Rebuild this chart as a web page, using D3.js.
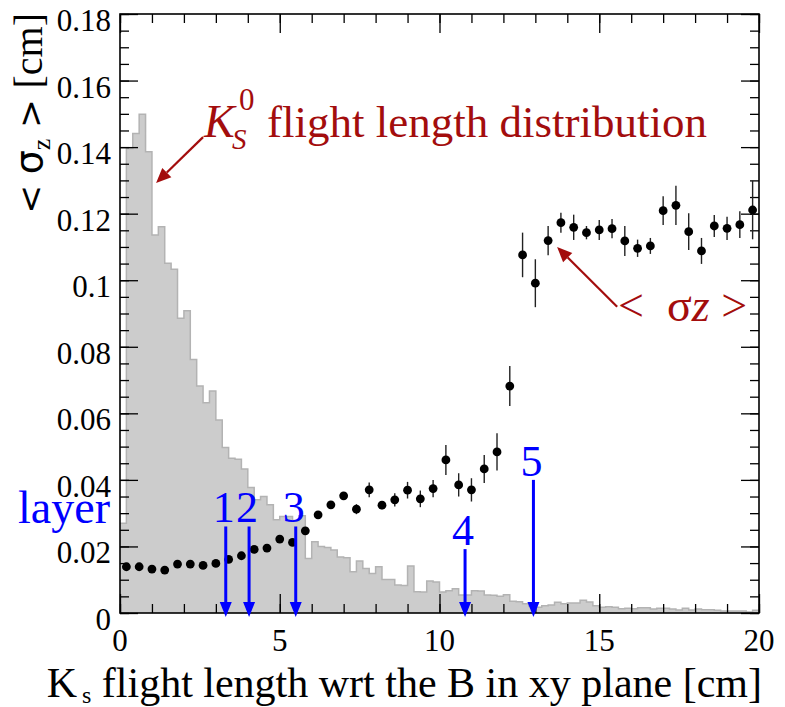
<!DOCTYPE html>
<html><head><meta charset="utf-8">
<script src="https://cdn.jsdelivr.net/npm/d3@7"></script>
<style>
body{margin:0;background:#fff;}
text{font-family:"Liberation Serif","Times New Roman",serif;}
</style></head><body>
<svg id="c" width="785" height="707"></svg>
<script>
// ---- data ----
const histBinWidth = 0.2;
const histValues = [
0.0270,0.1396,0.1441,0.1499,0.1386,0.1136,0.1161,0.1051,0.1033,0.0886,
0.0908,0.0762,0.0682,0.0632,0.0667,0.0580,0.0497,0.0465,0.0462,0.0433,
0.0377,0.0340,0.0350,0.0325,0.0280,0.0290,0.0290,0.0278,0.0292,0.0164,
0.0214,0.0200,0.0197,0.0189,0.0168,0.0166,0.0124,0.0156,0.0134,0.0119,
0.0139,0.0101,0.0101,0.0084,0.0083,0.0141,0.0064,0.0063,0.0096,0.0093,
0.0063,0.0067,0.0073,0.0054,0.0054,0.0067,0.0066,0.0054,0.0053,0.0050,
0.0055,0.0035,0.0034,0.0028,0.0020,0.0017,0.0022,0.0024,0.0032,0.0028,
0.0030,0.0030,0.0038,0.0033,0.0022,0.0017,0.0019,0.0017,0.0013,0.0014,
0.0013,0.0016,0.0016,0.0012,0.0014,0.0014,0.0012,0.0009,0.0014,0.0009,
0.0012,0.0010,0.0010,0.0008,0.0006,0.0006,0.0006,0.0006,0.0003,0.0008];

const dotBinWidth = 0.4;
const dotValues = [
0.0139,0.0139,0.0132,0.0129,0.0147,0.0147,0.0143,0.0149,0.0161,0.0172,
0.0191,0.0195,0.0222,0.0212,0.0247,0.0295,0.0325,0.0352,0.0312,0.0370,
0.0324,0.0340,0.0369,0.0343,0.0374,0.0460,0.0385,0.0370,0.0433,0.0484,
0.0682,0.1076,0.0991,0.1119,0.1173,0.1159,0.1143,0.1151,0.1155,0.1118,
0.1096,0.1103,0.1209,0.1225,0.1146,0.1088,0.1163,0.1156,0.1167,0.1211];
const dotErrors = [
0.0003,0.0003,0.0003,0.0003,0.0003,0.0003,0.0003,0.0003,0.0004,0.0004,
0.0005,0.0005,0.0008,0.0008,0.0008,0.0010,0.0010,0.0010,0.0015,0.0022,
0.0012,0.0020,0.0025,0.0025,0.0026,0.0045,0.0035,0.0035,0.0042,0.0056,
0.0060,0.0067,0.0072,0.0044,0.0030,0.0038,0.0020,0.0030,0.0029,0.0045,
0.0026,0.0024,0.0043,0.0059,0.0055,0.0039,0.0033,0.0035,0.0040,0.0088];

const xTickValues = [0,5,10,15,20];
const xTickLabels = ["0","5","10","15","20"];
const yTickValues = [0,0.02,0.04,0.06,0.08,0.1,0.12,0.14,0.16,0.18];
const yTickLabels = ["0","0.02","0.04","0.06","0.08","0.1","0.12","0.14","0.16","0.18"];

const layerPositions = [3.31,4.04,5.50,10.80,12.94];
const layerTops = [0.026,0.026,0.026,0.0192,0.040];
const layerLabels = ["1","2","3","4","5"];

// ---- scales ----
const svg = d3.select("#c");
const x = d3.scaleLinear().domain([0,20]).range([120,759]);
const y = d3.scaleLinear().domain([0,0.18]).range([613,14]);
const RED = "#a30d0d", BLUE = "#0000ff";
const SERIF = "Liberation Serif, Times New Roman, serif";

// ---- histogram ----
const histData = histValues.map((v,i)=>({x:i*histBinWidth, v}));
histData.push({x:histValues.length*histBinWidth, v:histValues[histValues.length-1]});
svg.append("path").datum(histData)
  .attr("d", d3.area().curve(d3.curveStepAfter).x(d=>x(d.x)).y0(y(0)).y1(d=>y(d.v)))
  .attr("fill","#cccccc");
svg.append("path").datum(histData)
  .attr("d", d3.line().curve(d3.curveStepAfter).x(d=>x(d.x)).y(d=>y(d.v)))
  .attr("fill","none").attr("stroke","#b3b3b3").attr("stroke-width",1.5);

// ---- axes ticks ----
const xMinor = d3.range(21);
const yMinor = d3.range(37).map(i=>i*0.005);
function addAxis(gen, tr){
  const g = svg.append("g").attr("transform",tr).call(gen);
  g.select(".domain").remove();
  g.selectAll(".tick line").attr("stroke","#000").attr("stroke-width",1.3);
  g.selectAll(".tick text").remove();
}
addAxis(d3.axisBottom(x).tickValues(xMinor).tickSize(-9), "translate(0,613)");
addAxis(d3.axisBottom(x).tickValues(xTickValues).tickSize(-19), "translate(0,613)");
addAxis(d3.axisTop(x).tickValues(xMinor).tickSize(-9), "translate(0,14)");
addAxis(d3.axisTop(x).tickValues(xTickValues).tickSize(-19), "translate(0,14)");
addAxis(d3.axisLeft(y).tickValues(yMinor).tickSize(-9), "translate(120,0)");
addAxis(d3.axisLeft(y).tickValues(yTickValues).tickSize(-18), "translate(120,0)");
addAxis(d3.axisRight(y).tickValues(yMinor).tickSize(-9), "translate(759,0)");
addAxis(d3.axisRight(y).tickValues(yTickValues).tickSize(-18), "translate(759,0)");

svg.append("rect").attr("x",x(0)).attr("y",y(0.18)).attr("width",x(20)-x(0)).attr("height",y(0)-y(0.18))
  .attr("fill","none").attr("stroke","#000").attr("stroke-width",1.6);

// tick labels
svg.append("g").selectAll("text").data(xTickValues).join("text")
  .attr("font-family",SERIF)
  .attr("x",d=>x(d)).attr("y",651).attr("text-anchor","middle")
  .attr("font-size",31).text((d,i)=>xTickLabels[i]);
svg.append("g").selectAll("text").data(yTickValues).join("text")
  .attr("font-family",SERIF)
  .attr("x",111).attr("y",d=>y(d)+17).attr("text-anchor","end")
  .attr("font-size",31).text((d,i)=>yTickLabels[i]);

// axis titles
const xt = svg.append("text").attr("font-family",SERIF).attr("x",762).attr("y",697).attr("text-anchor","end").attr("font-size",42);
xt.append("tspan").text("K");
xt.append("tspan").attr("font-size",24).attr("dy",6).attr("dx",5).text("s");
xt.append("tspan").attr("dy",-6).text(" flight length wrt the B in xy plane [cm]");

const yt = svg.append("text").attr("font-family",SERIF).attr("transform","translate(42,13) rotate(-90)")
  .attr("text-anchor","end").attr("font-size",40).style("white-space","pre");
yt.append("tspan").attr("font-family","DejaVu Sans").attr("font-size",34).text("< ");
yt.append("tspan").attr("font-family","DejaVu Sans").attr("font-size",38).text("σ");
yt.append("tspan").attr("font-size",26).attr("dy",8).text("z");
yt.append("tspan").attr("dy",-8).attr("font-family","DejaVu Sans").attr("font-size",34).text(" > ");
yt.append("tspan").text("[cm]");

// ---- data points ----
const dots = dotValues.map((v,i)=>({x:(i+0.5)*dotBinWidth, v, e:dotErrors[i]}));
svg.append("g").selectAll("line").data(dots).join("line")
  .attr("x1",d=>x(d.x)).attr("x2",d=>x(d.x))
  .attr("y1",d=>y(d.v-d.e)).attr("y2",d=>y(d.v+d.e))
  .attr("stroke","#222").attr("stroke-width",1.4);
svg.append("g").selectAll("circle").data(dots).join("circle")
  .attr("cx",d=>x(d.x)).attr("cy",d=>y(d.v)).attr("r",4.4).attr("fill","#000");

// ---- layer arrows ----
const lg = svg.append("g");
layerPositions.forEach((p,i)=>{
  const px = x(p), top = y(layerTops[i]), tip = y(0)+4;
  lg.append("line").attr("x1",px).attr("x2",px).attr("y1",top).attr("y2",tip-10)
    .attr("stroke",BLUE).attr("stroke-width",3);
  lg.append("path").attr("d",`M${px-6},${tip-15}L${px+6},${tip-15}L${px},${tip}Z`).attr("fill",BLUE);
  lg.append("text").attr("font-family",SERIF).attr("x",px-2).attr("y",top-4).attr("text-anchor","middle")
    .attr("font-size",44).attr("fill",BLUE).text(layerLabels[i]);
});
svg.append("text").attr("font-family",SERIF).attr("x",110).attr("y",523).attr("text-anchor","end")
  .attr("font-size",46).attr("fill",BLUE).text("layer");

// ---- red annotations ----
function redArrow(x1,y1,x2,y2){
  const ang = Math.atan2(y2-y1,x2-x1), L=15, Wd=6.5;
  const bx = x2-L*Math.cos(ang), by = y2-L*Math.sin(ang);
  svg.append("line").attr("x1",x1).attr("y1",y1).attr("x2",bx).attr("y2",by)
    .attr("stroke",RED).attr("stroke-width",2.2);
  svg.append("path").attr("d",`M${x2},${y2}L${bx+Wd*Math.sin(ang)},${by-Wd*Math.cos(ang)}L${bx-Wd*Math.sin(ang)},${by+Wd*Math.cos(ang)}Z`)
    .attr("fill",RED);
}
redArrow(x(2.6),y(0.143),x(1.13),y(0.1292));
redArrow(x(15.56),y(0.092),x(13.68),y(0.110));

svg.append("text").attr("font-family",SERIF).attr("x",204).attr("y",137).attr("font-size",46).attr("font-style","italic").attr("fill",RED).text("K");
svg.append("text").attr("font-family",SERIF).attr("x",232).attr("y",149).attr("font-size",29).attr("font-style","italic").attr("fill",RED).text("S");
svg.append("text").attr("font-family",SERIF).attr("x",239).attr("y",110).attr("font-size",31).attr("fill",RED).text("0");
svg.append("text").attr("font-family",SERIF).attr("x",267).attr("y",137).attr("font-size",45).attr("fill",RED).text("flight length distribution");

const sz = svg.append("text").attr("font-family",SERIF).attr("x",618).attr("y",321).attr("font-size",46).attr("fill",RED).style("white-space","pre");
sz.append("tspan").text("<  ");
sz.append("tspan").text("σ");
sz.append("tspan").attr("font-style","italic").text("z");
sz.append("tspan").text(" >");
</script>
</body></html>
